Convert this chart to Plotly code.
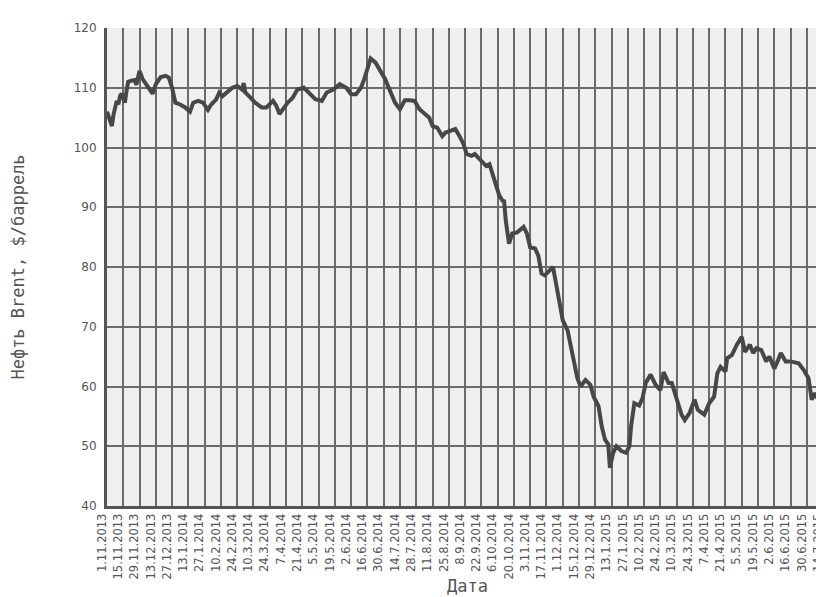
"""
Brent oil price, Nov 2013 - Jul 2015 (trading-day axis, labels every 10 days).
"""

import plotly.graph_objects as go

# trading-day index and Brent price, $/barrel
day_idx = [
    0, 1, 2, 3, 4, 5, 6, 7, 8, 9, 10, 11, 12, 13, 15, 17, 18, 19, 20, 22,
    24, 26, 28, 30, 33, 36, 38, 40, 42, 45, 48, 51, 53, 56, 59, 62, 64, 67, 69, 71,
    74, 77, 80, 83, 84, 85, 88, 91, 95, 98, 102, 104, 106, 108, 111, 114, 117, 121, 124, 128,
    132, 135, 139, 143, 147, 150, 153, 156, 158, 160, 162, 165, 168, 171, 174, 177, 180, 183, 186, 189,
    192, 195, 198, 200, 203, 206, 208, 211, 214, 217, 219, 221, 224, 226, 230, 233, 235, 238, 241, 243,
    244, 245, 246, 247, 249, 252, 256, 258, 260, 263, 265, 267, 269, 271, 274, 275, 277, 279, 280, 283,
    285, 287, 289, 291, 294, 297, 299, 302, 304, 306, 308, 309, 311, 313, 316, 319, 321, 322, 324, 327,
    329, 331, 334, 337, 340, 342, 345, 347, 350, 353, 355, 358, 361, 363, 367, 370, 373, 375, 377, 380,
    381, 384, 387, 390, 392, 395, 397, 399, 402, 405, 407, 410, 412, 414, 417, 420, 425, 428, 431, 433,
    435, 437, 440, 443,
]
price = [
    106, 105, 104.3, 103.6, 105.5, 106.4, 107.8, 107.2, 108.6, 109, 108, 107.5, 109.5, 111, 111.2, 111.3, 110.5, 111.5, 112.8, 111.4,
    110.6, 109.7, 109, 110.6, 111.8, 112, 111.7, 110, 107.5, 107.2, 106.7, 106, 107.5, 107.8, 107.5, 106.3, 107.2, 108, 109.2, 108.6,
    109.4, 110, 110.3, 109.7, 110.8, 109.2, 108.4, 107.5, 106.7, 106.7, 107.8, 107, 105.6, 106.4, 107.5, 108.3, 109.7, 110, 109.2, 108.1,
    107.8, 109.2, 109.7, 110.6, 110, 108.9, 108.9, 110, 111.4, 113.1, 114.9, 114.2, 112.8, 111.4, 109.4, 107.5, 106.4, 107.9, 107.9, 107.8,
    106.4, 105.6, 105, 103.6, 103.3, 101.9, 102.5, 102.8, 103.1, 101.7, 100.6, 98.9, 98.6, 98.9, 97.8, 96.9, 97.2, 94.4, 92, 91.1,
    91, 87.8, 85, 83.9, 85.6, 85.8, 86.7, 85.6, 83.3, 83.1, 81.9, 78.9, 78.6, 79.2, 80, 78.6, 75.6, 72.2, 71.1, 69.4,
    66.7, 63.9, 61.4, 60, 61.1, 60.3, 58.3, 56.7, 53.3, 51.1, 50.3, 46.4, 48.9, 50, 49.2, 48.9, 50, 53.3, 57.2, 56.8,
    58, 60.6, 62, 60.3, 59.4, 62.4, 60.6, 60.6, 57.8, 55.3, 54.4, 55.6, 57.8, 56.1, 55.3, 57.2, 58.3, 62.2, 63.3, 62.5,
    64.7, 65.3, 67, 68.3, 65.8, 67, 65.6, 66.4, 66.1, 64.2, 65, 63, 64.2, 65.6, 64.2, 64.2, 63.9, 62.8, 61.4, 57.8,
    58.9, 57.8, 58.6, 57.5,
]

# x tick labels, one every 10 trading days
tick_dates = [
    "1.11.2013", "15.11.2013", "29.11.2013", "13.12.2013", "27.12.2013",
    "13.1.2014", "27.1.2014", "10.2.2014", "24.2.2014", "10.3.2014", "24.3.2014",
    "7.4.2014", "21.4.2014", "5.5.2014", "19.5.2014", "2.6.2014", "16.6.2014",
    "30.6.2014", "14.7.2014", "28.7.2014", "11.8.2014", "25.8.2014", "8.9.2014",
    "22.9.2014", "6.10.2014", "20.10.2014", "3.11.2014", "17.11.2014", "1.12.2014",
    "15.12.2014", "29.12.2014", "13.1.2015", "27.1.2015", "10.2.2015", "24.2.2015",
    "10.3.2015", "24.3.2015", "7.4.2015", "21.4.2015", "5.5.2015", "19.5.2015",
    "2.6.2015", "16.6.2015", "30.6.2015", "14.7.2015",
]
y_ticks = [40, 50, 60, 70, 80, 90, 100, 110, 120]

GRID = "#6a6a6a"
AXIS = "#555555"
TEXT = "#555555"

fig = go.Figure()
fig.add_trace(go.Scatter(
    x=day_idx, y=price,
    mode="lines",
    line={"color": "#474747", "width": 4},
    showlegend=False,
    hoverinfo="skip",
))

fig.update_xaxes(
    range=[0, 443],
    tickmode="array",
    tickvals=[10 * i for i in range(len(tick_dates))],
    ticktext=tick_dates,
    tickangle=-90,
    tickfont={"family": "DejaVu Sans", "size": 11.5, "color": TEXT},
    ticklabelshift=-5,
    ticklabeloverflow="allow",
    showgrid=True, gridcolor=GRID, gridwidth=2,
    showline=True, linecolor=AXIS, linewidth=3,
    zeroline=False, ticks="",
    title={"text": "Дата", "font": {"family": "DejaVu Sans Mono", "size": 17, "color": TEXT},
           "standoff": 2},
)
fig.update_yaxes(
    range=[40, 120],
    tickmode="array",
    tickvals=y_ticks,
    tickfont={"family": "DejaVu Sans", "size": 12, "color": TEXT},
    showgrid=True, gridcolor=GRID, gridwidth=2,
    showline=True, linecolor=AXIS, linewidth=3,
    zeroline=False, ticks="outside", ticklen=5, tickcolor="rgba(0,0,0,0)",
    title={"text": "Нефть Brent, $/баррель",
           "font": {"family": "DejaVu Sans Mono", "size": 17, "color": TEXT},
           "standoff": 50},
)

fig.update_layout(
    width=824, height=597,
    margin={"l": 96, "r": 4, "t": 20, "b": 99},
    plot_bgcolor="#efefef",
    paper_bgcolor="white",
)

fig.write_html("out.html")
